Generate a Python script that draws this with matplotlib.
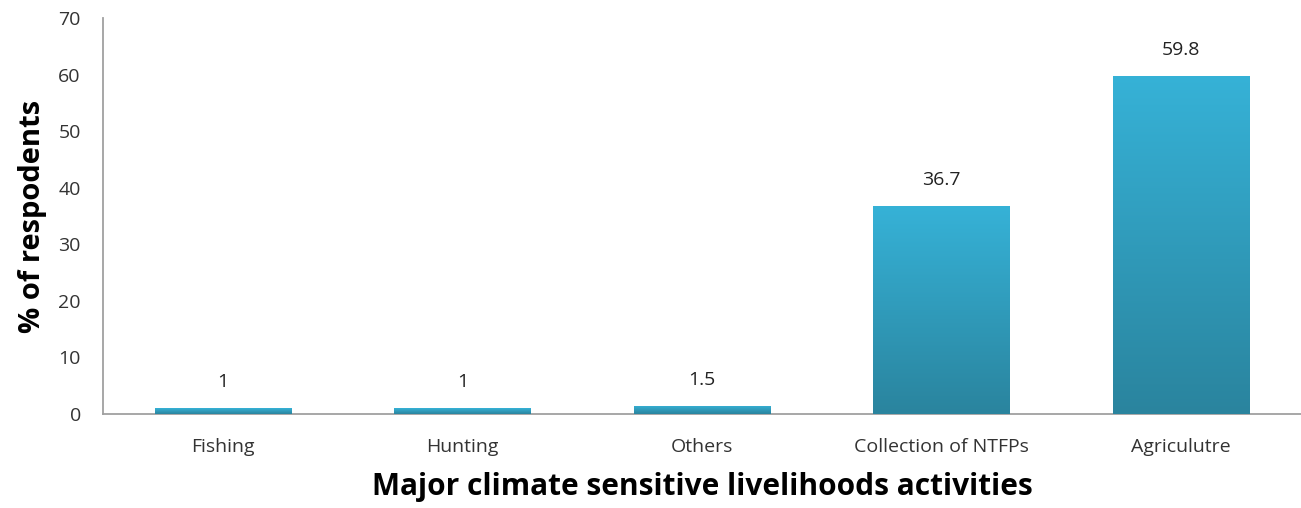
import numpy as np
import matplotlib.pyplot as plt
from matplotlib.colors import LinearSegmentedColormap

# livelihood activities and share of respondents (%)
activities = ["Fishing", "Hunting", "Others", "Collection of NTFPs", "Agriculutre"]
respondents = [1, 1, 1.5, 36.7, 59.8]
value_labels = ["1", "1", "1.5", "36.7", "59.8"]

plt.rcParams['font.family'] = ['Open Sans', 'DejaVu Sans']

fig = plt.figure(figsize=(13.01, 5.08), dpi=100)
ax = fig.add_axes([103 / 1301, 1 - 414 / 508, 1 - 103 / 1301, 396 / 508])

x = np.arange(len(activities))
bars = ax.bar(x, respondents, width=0.57, color='#2f9cbd', zorder=2)

# vertical gradient, light on top, darker at the base
cmap = LinearSegmentedColormap.from_list('bar', ['#2a849e', '#36b2d7'])
grad = np.linspace(0, 1, 256).reshape(-1, 1)
for b in bars:
    x0, w, h = b.get_x(), b.get_width(), b.get_height()
    im = ax.imshow(grad, cmap=cmap, origin='lower', aspect='auto',
                   extent=[x0, x0 + w, 0, h], zorder=3)
    im.set_clip_path(b)

for xi, v, lab in zip(x, respondents, value_labels):
    ax.text(xi, v + 3.0, lab, ha='center', va='bottom', fontsize=14, color='#222222')

ax.set_xlim(-0.5, len(activities) - 0.5)
ax.set_ylim(0, 70)
ax.set_yticks(range(0, 71, 10))
ax.set_xticks(x)
ax.set_xticklabels(activities)
ax.tick_params(axis='both', length=0, labelsize=14, colors='#333333')
ax.tick_params(axis='x', pad=17)
ax.tick_params(axis='y', pad=16)

for s in ['top', 'right']:
    ax.spines[s].set_visible(False)
for s in ['left', 'bottom']:
    ax.spines[s].set_color('#a0a0a0')
    ax.spines[s].set_linewidth(1.3)

ax.set_xlabel('Major climate sensitive livelihoods activities', fontsize=21.5,
              fontweight='bold', labelpad=12)
ax.set_ylabel('% of respodents', fontsize=21, fontweight='bold', labelpad=8)

plt.savefig('out.png', dpi=100)
